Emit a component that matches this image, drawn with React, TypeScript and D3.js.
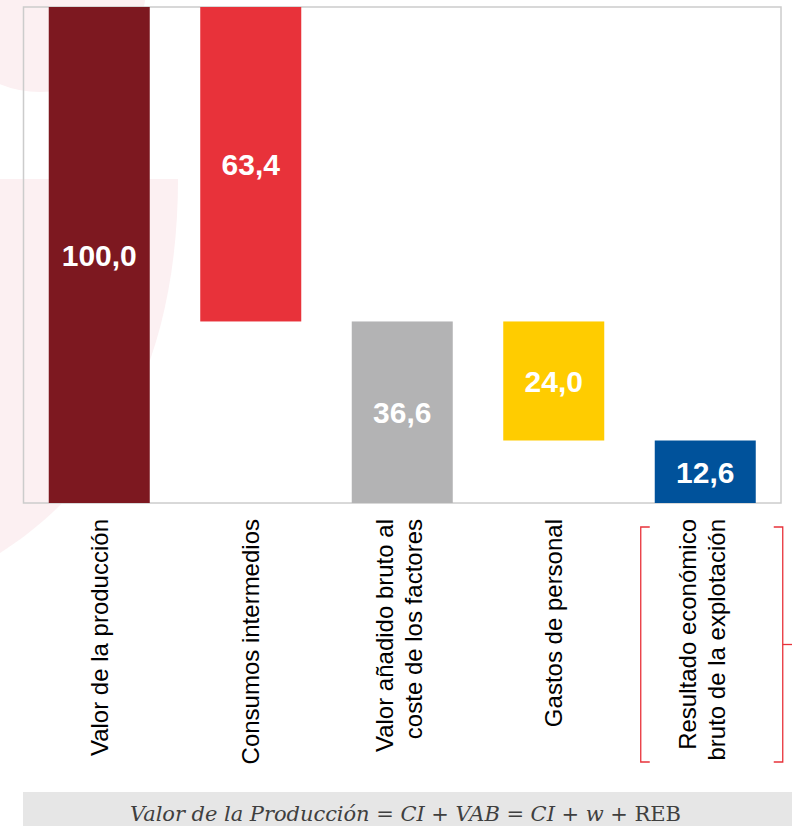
import React from "react";
import { select, scaleBand, scaleLinear } from "d3";

// Cascada de la cuenta de explotación (índice, Valor de la producción = 100)
const categories = [
  "Valor de la producción",
  "Consumos intermedios",
  "Valor añadido bruto al coste de los factores",
  "Gastos de personal",
  "Resultado económico bruto de la explotación",
];
const labelLines = [
  ["Valor de la producción"],
  ["Consumos intermedios"],
  ["Valor añadido bruto al", "coste de los factores"],
  ["Gastos de personal"],
  ["Resultado económico", "bruto de la explotación"],
];
const values = [100.0, 63.4, 36.6, 24.0, 12.6];
// "total" bars start at zero, "resta" bars hang from the previous total
const kinds = ["total", "resta", "total", "resta", "total"];
const colors = ["#7d1820", "#e8323a", "#b3b3b4", "#ffcc00", "#00529b"];
const formulaItalic = "Valor de la Producción = CI + VAB = CI + w + ";
const formulaUpright = "REB";

const W = 792;
const H = 826;
const margin = { top: 7, right: 11, bottom: 323, left: 23.5 };

export default function App() {
  const svgRef = React.useRef<SVGSVGElement | null>(null);

  React.useLayoutEffect(() => {
    const svg = select(svgRef.current);
    const plotBottom = H - margin.bottom;

    const x = scaleBand()
      .domain(categories)
      .range([margin.left, W - margin.right])
      .paddingInner(1 / 3)
      .paddingOuter(1 / 6);

    const y = scaleLinear().domain([0, 100]).range([plotBottom, margin.top]);

    // running level for the waterfall
    let level = 0;
    const bars = categories.map((c, i) => {
      let lo: number, hi: number;
      if (kinds[i] === "total") {
        lo = 0;
        hi = values[i];
        level = values[i];
      } else {
        hi = level;
        lo = level - values[i];
        level = lo;
      }
      return { c, i, lo, hi, v: values[i] };
    });

    // watermark shapes behind everything
    const wm = svg.append("g").attr("fill", "#fcf0f2");
    wm.append("circle").attr("cx", 40).attr("cy", -14).attr("r", 106);
    wm.append("path").attr("d", "M0,179 L178,179 C178,330 130,470 0,553 Z");

    svg
      .append("rect")
      .attr("x", margin.left)
      .attr("y", margin.top)
      .attr("width", W - margin.right - margin.left)
      .attr("height", plotBottom - margin.top)
      .attr("fill", "none")
      .attr("stroke", "#cccccc")
      .attr("stroke-width", 1.5);

    const g = svg.append("g");
    g.selectAll("rect")
      .data(bars)
      .join("rect")
      .attr("x", (d) => x(d.c)!)
      .attr("y", (d) => y(d.hi))
      .attr("width", x.bandwidth())
      .attr("height", (d) => y(d.lo) - y(d.hi))
      .attr("fill", (d) => colors[d.i]);

    g.selectAll("text.val")
      .data(bars)
      .join("text")
      .attr("class", "val")
      .attr("x", (d) => x(d.c)! + x.bandwidth() / 2)
      .attr("y", (d) => (y(d.lo) + y(d.hi)) / 2)
      .attr("dy", "0.36em")
      .attr("text-anchor", "middle")
      .attr("fill", "#ffffff")
      .attr("font-family", "'Liberation Sans', Arial, sans-serif")
      .attr("font-weight", "bold")
      .attr("font-size", 30)
      .text((d) => d.v.toFixed(1).replace(".", ","));

    // rotated category labels
    const lineGap = 29;
    const labels = svg.append("g");
    bars.forEach((d) => {
      const lines = labelLines[d.i];
      const cx = x(d.c)! + x.bandwidth() / 2;
      lines.forEach((line, k) => {
        const off = (k - (lines.length - 1) / 2) * lineGap - (lines.length > 1 ? 3 : 0);
        labels
          .append("text")
          .attr("transform", `translate(${cx + off},${plotBottom + 16}) rotate(-90)`)
          .attr("dy", "0.35em")
          .attr("text-anchor", "end")
          .attr("fill", "#000000")
          .attr("font-family", "'Liberation Sans', Arial, sans-serif")
          .attr("font-size", 24)
          .text(line);
      });
    });

    // red bracket around the last label
    const last = bars[bars.length - 1];
    const bx0 = x(last.c)! - 14;
    const bx1 = x(last.c)! + x.bandwidth() + 27;
    const by0 = plotBottom + 24;
    const by1 = plotBottom + 259;
    const serif = 9;
    const bracket = svg
      .append("g")
      .attr("fill", "none")
      .attr("stroke", "#e8323a")
      .attr("stroke-width", 1.3);
    bracket
      .append("path")
      .attr("d", `M${bx0 + serif},${by0} H${bx0} V${by1} H${bx0 + serif}`);
    bracket
      .append("path")
      .attr("d", `M${bx1 - serif},${by0} H${bx1} V${by1} H${bx1 - serif}`);
    bracket
      .append("path")
      .attr("d", `M${bx1},${(by0 + by1) / 2} H${W}`);

    // formula box
    svg
      .append("rect")
      .attr("x", 23)
      .attr("y", 792)
      .attr("width", W - 23)
      .attr("height", H - 792)
      .attr("fill", "#e6e6e6");

    const f = svg
      .append("text")
      .attr("x", 130)
      .attr("y", 821)
      .attr("fill", "#3f3f3f")
      .attr("font-family", "'DejaVu Serif', 'Liberation Serif', serif")
      .attr("font-size", 21)
      .attr("textLength", 551)
      .attr("lengthAdjust", "spacing");
    f.append("tspan").attr("font-style", "italic").text(formulaItalic);
    f.append("tspan").text(formulaUpright);

    return () => {
      svg.selectAll("*").remove();
    };
  }, []);

  return (
    <svg
      ref={svgRef}
      width={W}
      height={H}
      style={{ position: "absolute", left: 0, top: 0, background: "#ffffff" }}
    />
  );
}
